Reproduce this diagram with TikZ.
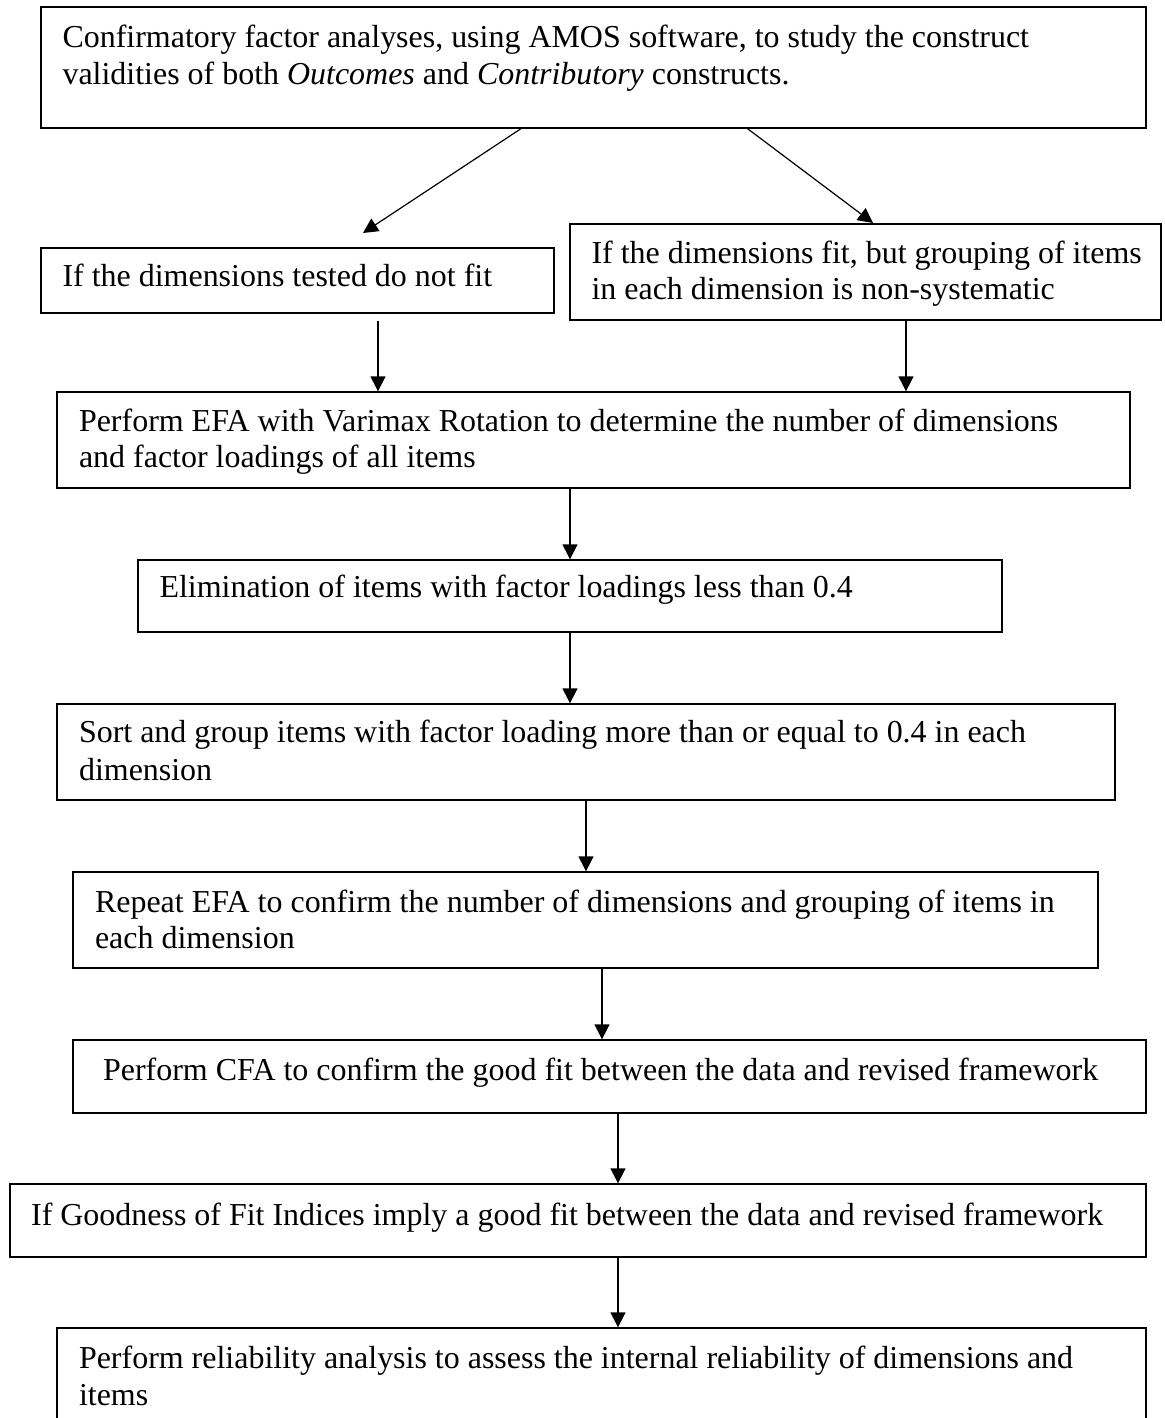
\documentclass[tikz,border=0pt]{standalone}
\usepackage{fontspec}
\setmainfont{Liberation Serif}
\usetikzlibrary{arrows.meta,fit}

\tikzset{
  box/.style={draw=black, line width=0.5pt, rectangle, inner sep=0pt},
  txt/.style={inner sep=0pt, anchor=base west, font=\fontsize{12}{13.8}\selectfont},
  arr/.style={draw=black, line width=0.45pt, -{Triangle[length=5.6pt,width=5.6pt]}}
}

\begin{document}
\begin{tikzpicture}[x=0.3755pt, y=-0.3755pt]
  \useasboundingbox (0,0) rectangle (1164,1418);

  % boxes (corner coordinates)
  \node[box, fit={(41,7) (1146,128)}]     (b1) {};
  \node[box, fit={(41,248) (554,313)}]    (b2) {};
  \node[box, fit={(570,224) (1161,320)}]  (b3) {};
  \node[box, fit={(57,392) (1130,488)}]   (b4) {};
  \node[box, fit={(138,560) (1002,632)}]  (b5) {};
  \node[box, fit={(57,704) (1115,800)}]   (b6) {};
  \node[box, fit={(73,872) (1098,968)}]   (b7) {};
  \node[box, fit={(73,1040) (1146,1113)}] (b8) {};
  \node[box, fit={(10,1184) (1146,1257)}] (b9) {};
  \node[box, fit={(57,1328) (1146,1440)}] (b10) {};

  % texts
  \node[txt] (t1a) at (62,48) {Confirmatory factor analyses, using AMOS software, to study the construct};
  \node[txt] (t1b) at (62,85) {validities of both \textit{Outcomes} and \textit{Contributory} constructs.};
  \node[txt] (t2)  at (62,287) {If the dimensions tested do not fit};
  \node[txt] (t3a) at (591,264) {If the dimensions fit, but grouping of items};
  \node[txt] (t3b) at (591,300) {in each dimension is non-systematic};
  \node[txt] (t4a) at (78.5,432) {Perform EFA with Varimax Rotation to determine the number of dimensions};
  \node[txt] (t4b) at (78.5,468) {and factor loadings of all items};
  \node[txt] (t5)  at (159,598) {Elimination of items with factor loadings less than 0.4};
  \node[txt] (t6a) at (78.5,742) {Sort and group items with factor loading more than or equal to 0.4 in each};
  \node[txt] (t6b) at (78.5,780) {dimension};
  \node[txt] (t7a) at (94.5,912) {Repeat EFA to confirm the number of dimensions and grouping of items in};
  \node[txt] (t7b) at (94.5,948) {each dimension};
  \node[txt] (t8)  at (102.6,1080) {Perform CFA to confirm the good fit between the data and revised framework};
  \node[txt] (t9)  at (30.6,1225) {If Goodness of Fit Indices imply a good fit between the data and revised framework};
  \node[txt] (t10a) at (78.5,1368) {Perform reliability analysis to assess the internal reliability of dimensions and};
  \node[txt] (t10b) at (78.5,1405) {items};

  % connector columns and free ends
  \coordinate (dl) at (521,0);
  \coordinate (dr) at (747.5,0);
  \coordinate (tipl) at (363,233);
  \coordinate (tipr) at (873,223);
  \coordinate (xa) at (378,0);
  \coordinate (xb) at (906,0);
  \coordinate (xc) at (570,0);
  \coordinate (xd) at (586,0);
  \coordinate (xe) at (602,0);
  \coordinate (xf) at (618,0);

  % connectors
  \draw[arr] (b1.south -| dl) -- (tipl);
  \draw[arr] (b1.south -| dr) -- (tipr);
  \draw[arr] (b2.south -| xa) ++(0,7) -- (b4.north -| xa);
  \draw[arr] (b3.south -| xb) -- (b4.north -| xb);
  \draw[arr] (b4.south -| xc) -- (b5.north -| xc);
  \draw[arr] (b5.south -| xc) -- (b6.north -| xc);
  \draw[arr] (b6.south -| xd) -- (b7.north -| xd);
  \draw[arr] (b7.south -| xe) -- (b8.north -| xe);
  \draw[arr] (b8.south -| xf) -- (b9.north -| xf);
  \draw[arr] (b9.south -| xf) -- (b10.north -| xf);
\end{tikzpicture}
\end{document}
